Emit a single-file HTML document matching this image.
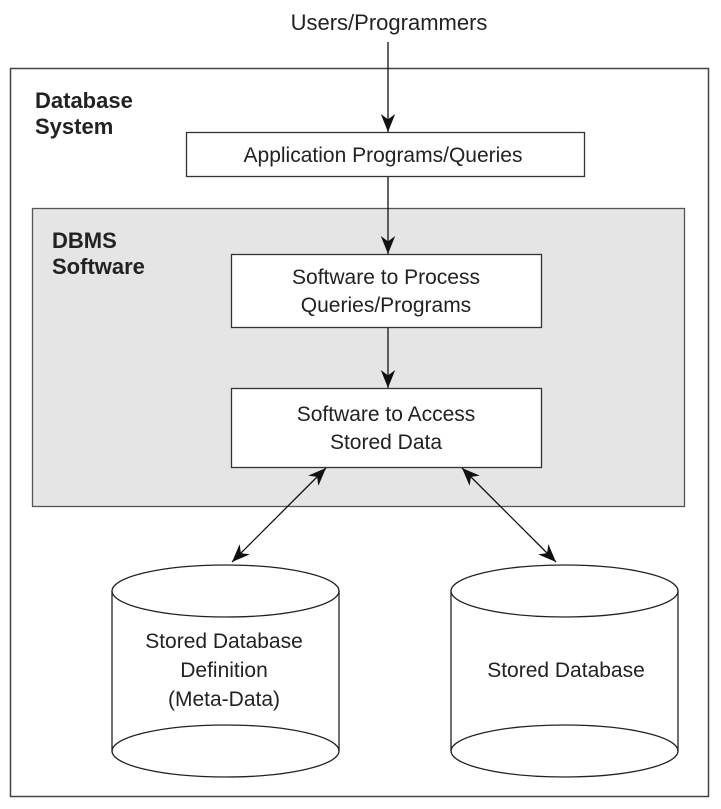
<!DOCTYPE html>
<html><head><style>body{margin:0;background:#fff}</style></head><body>
<svg width="721" height="804" viewBox="0 0 721 804" xmlns="http://www.w3.org/2000/svg" font-family="Liberation Sans, sans-serif" fill="#222">
<defs><marker id="a" viewBox="0 0 10 10" refX="10" refY="5" markerWidth="18" markerHeight="18" markerUnits="userSpaceOnUse" orient="auto-start-reverse"><path d="M0,1 L10,5 L0,9 L3,5 z" fill="#111"/></marker></defs>
<rect x="0" y="0" width="721" height="804" fill="#fff"/>
<text x="389" y="30" font-size="22" text-anchor="middle">Users/Programmers</text>
<rect x="10.5" y="68.5" width="698" height="728" fill="#fff" stroke="#444" stroke-width="1.5"/>
<text x="35" y="108" font-size="22" font-weight="bold">Database</text>
<text x="35" y="134" font-size="22" font-weight="bold">System</text>
<rect x="186.5" y="132.5" width="398" height="44" fill="#fff" stroke="#333" stroke-width="1.3"/>
<text x="383" y="162" font-size="21" text-anchor="middle">Application Programs/Queries</text>
<rect x="32.5" y="208.5" width="652" height="298" fill="#e5e5e5" stroke="#555" stroke-width="1.3"/>
<text x="52" y="248" font-size="22" font-weight="bold">DBMS</text>
<text x="52" y="274" font-size="22" font-weight="bold">Software</text>
<rect x="231.5" y="254.5" width="310" height="73" fill="#fff" stroke="#333" stroke-width="1.3"/>
<text x="386" y="284" font-size="21" text-anchor="middle">Software to Process</text>
<text x="386" y="312" font-size="21" text-anchor="middle">Queries/Programs</text>
<rect x="231.5" y="388.5" width="310" height="79" fill="#fff" stroke="#333" stroke-width="1.3"/>
<text x="386" y="421" font-size="21" text-anchor="middle">Software to Access</text>
<text x="386" y="449" font-size="21" text-anchor="middle">Stored Data</text>
<g stroke="#111" stroke-width="1.3" fill="none">
<line x1="388" y1="42" x2="388" y2="132" marker-end="url(#a)"/>
<line x1="388" y1="177" x2="388" y2="254" marker-end="url(#a)"/>
<line x1="388" y1="328" x2="388" y2="388" marker-end="url(#a)"/>
<line x1="326" y1="468" x2="232" y2="562" marker-start="url(#a)" marker-end="url(#a)"/>
<line x1="462" y1="468" x2="556" y2="562" marker-start="url(#a)" marker-end="url(#a)"/>
</g>
<g stroke="#222" stroke-width="1.3" fill="#fff">
<path d="M112,591 L112,751 A113.5,26 0 0 0 339,751 L339,591"/>
<ellipse cx="225.5" cy="591" rx="113.5" ry="26"/>
<path d="M112,751 A113.5,26 0 0 1 339,751" fill="none"/>
<path d="M451,591 L451,751 A113.5,26 0 0 0 678,751 L678,591"/>
<ellipse cx="564.5" cy="591" rx="113.5" ry="26"/>
<path d="M451,751 A113.5,26 0 0 1 678,751" fill="none"/>
</g>
<text x="224" y="648" font-size="21" text-anchor="middle">Stored Database</text>
<text x="224" y="677" font-size="21" text-anchor="middle">Definition</text>
<text x="224" y="706" font-size="21" text-anchor="middle">(Meta-Data)</text>
<text x="566" y="677" font-size="21" text-anchor="middle">Stored Database</text>
</svg>
</body></html>
